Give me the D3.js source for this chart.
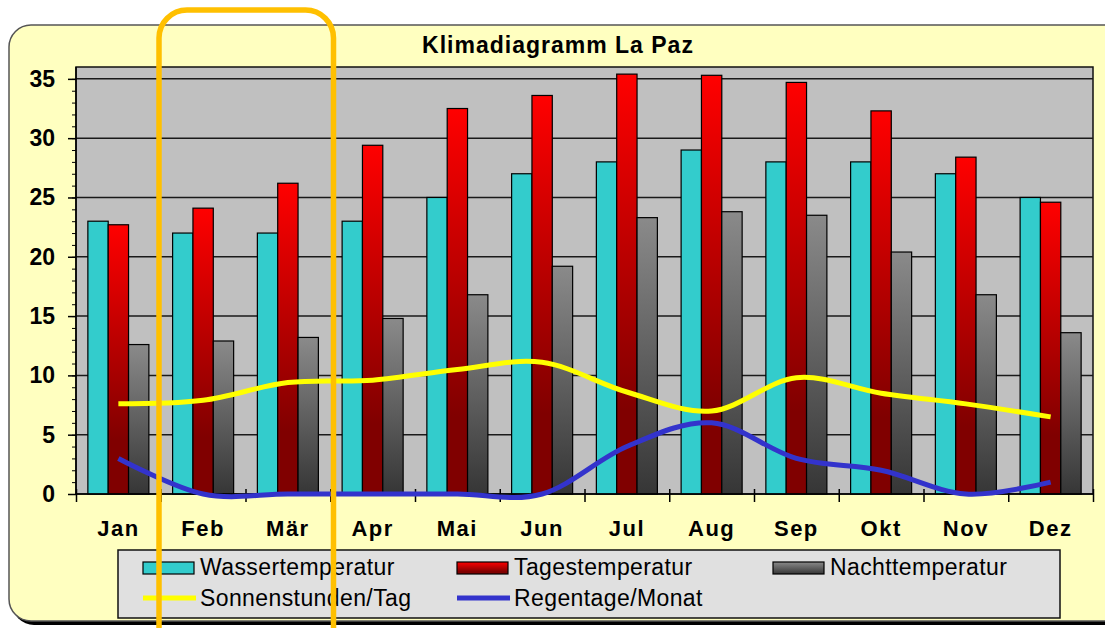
<!DOCTYPE html>
<html>
<head>
<meta charset="utf-8">
<script src="https://cdn.jsdelivr.net/npm/d3@7"></script>
<style>
  body { margin: 0; background: #fff; }
  svg { display: block; font-family: "Liberation Sans", Arial, sans-serif; }
</style>
</head>
<body>
<div id="chart"></div>
<script>
// Klimadiagramm La Paz
const months = ['Jan', 'Feb', 'Mär', 'Apr', 'Mai', 'Jun', 'Jul', 'Aug', 'Sep', 'Okt', 'Nov', 'Dez'];
const wasser = [23, 22, 22, 23, 25, 27, 28, 29, 28, 28, 27, 25];
const tages = [22.7, 24.1, 26.2, 29.4, 32.5, 33.6, 35.4, 35.3, 34.7, 32.3, 28.4, 24.6];
const nacht = [12.6, 12.9, 13.2, 14.8, 16.8, 19.2, 23.3, 23.8, 23.5, 20.4, 16.8, 13.6];
const sonne = [7.6, 7.9, 9.4, 9.6, 10.5, 11.1, 8.6, 7.0, 9.8, 8.5, 7.6, 6.5];
const regen = [3, 0, 0, 0, 0, 0, 4, 6, 3, 2, 0, 1];
const yTicks = [0, 5, 10, 15, 20, 25, 30, 35];

const barSeries = [
    { name: 'Wassertemperatur', values: wasser, fill: '#33cccc' },
    { name: 'Tagestemperatur', values: tages, fill: 'url(#gRed)' },
    { name: 'Nachttemperatur', values: nacht, fill: 'url(#gGray)' }
];
const lineSeries = [
    { name: 'Sonnenstunden/Tag', values: sonne, color: '#ffff00' },
    { name: 'Regentage/Monat', values: regen, color: '#3333cc' }
];

const initChart = () => {
    const width = 1105;
    const height = 628;
    const plot = { left: 76, right: 1093, top: 67, bottom: 494 };

    const svg = d3.select('#chart')
        .append('svg')
        .attr('width', width)
        .attr('height', height);

    const defs = svg.append('defs');
    const grad = (id, stops) => {
        const g = defs.append('linearGradient')
            .attr('id', id)
            .attr('x1', 0).attr('y1', 0).attr('x2', 0).attr('y2', 1);
        stops.forEach(([o, c]) => g.append('stop').attr('offset', o).attr('stop-color', c));
    };
    grad('gRed', [[0, '#ff0000'], [0.8, '#800000'], [1, '#800000']]);
    grad('gGray', [[0, '#8a8a8a'], [1, '#363636']]);

    // outer frame with shadow
    svg.append('rect')
        .attr('x', 12).attr('y', 28)
        .attr('width', 1120).attr('height', 597)
        .attr('rx', 22)
        .attr('fill', '#000');
    svg.append('rect')
        .attr('x', 9).attr('y', 25)
        .attr('width', 1120).attr('height', 596)
        .attr('rx', 22)
        .attr('fill', '#ffffc0')
        .attr('stroke', '#555')
        .attr('stroke-width', 1.5);

    svg.append('text')
        .attr('x', 558).attr('y', 53)
        .attr('text-anchor', 'middle')
        .attr('font-size', 23)
        .attr('font-weight', 'bold')
        .attr('letter-spacing', 1)
        .text('Klimadiagramm La Paz');

    const x = d3.scaleBand()
        .domain(months)
        .range([plot.left, plot.right])
        .paddingInner(0.28)
        .paddingOuter(0.14);
    const xs = d3.scaleBand()
        .domain(barSeries.map(d => d.name))
        .range([0, x.bandwidth()]);
    const y = d3.scaleLinear()
        .domain([0, 36])
        .range([plot.bottom, plot.top]);

    // plot area
    svg.append('rect')
        .attr('x', plot.left).attr('y', plot.top)
        .attr('width', plot.right - plot.left)
        .attr('height', plot.bottom - plot.top)
        .attr('fill', '#c0c0c0')
        .attr('stroke', '#111')
        .attr('stroke-width', 1.5);

    svg.append('g')
        .selectAll('line')
        .data(yTicks.filter(d => d > 0))
        .join('line')
        .attr('x1', plot.left).attr('x2', plot.right)
        .attr('y1', d => y(d)).attr('y2', d => y(d))
        .attr('stroke', '#1a1a1a')
        .attr('stroke-width', 1.5);

    // bars
    barSeries.forEach(s => {
        svg.append('g')
            .selectAll('rect')
            .data(s.values)
            .join('rect')
            .attr('x', (d, i) => x(months[i]) + xs(s.name))
            .attr('y', d => y(d))
            .attr('width', xs.bandwidth())
            .attr('height', d => y(0) - y(d))
            .attr('fill', s.fill)
            .attr('stroke', '#000')
            .attr('stroke-width', 1.2);
    });

    // axes
    const yMinor = svg.append('g')
        .attr('transform', `translate(${plot.left},0)`)
        .call(d3.axisLeft(y).tickValues(d3.range(0, 36)).tickSize(4).tickFormat(''));
    yMinor.select('.domain').remove();

    const yAxis = svg.append('g')
        .attr('transform', `translate(${plot.left},0)`)
        .call(d3.axisLeft(y).tickValues(yTicks).tickSize(8).tickPadding(13).tickSizeOuter(0));
    yAxis.select('.domain').attr('d', `M0,${plot.top}V${plot.bottom}`).attr('stroke-width', 1.5);
    yAxis.selectAll('line').attr('stroke-width', 1.5);
    yAxis.selectAll('text')
        .attr('font-size', 23)
        .attr('font-weight', 'bold')
        .attr('fill', '#000');

    const xb = d3.scaleLinear().domain([0, 12]).range([plot.left, plot.right]);
    const xTicks = svg.append('g')
        .attr('transform', `translate(0,${plot.bottom - 5})`)
        .call(d3.axisBottom(xb).tickValues(d3.range(13)).tickSize(13).tickFormat(''));
    xTicks.select('.domain').remove();
    xTicks.selectAll('line').attr('stroke-width', 1.5);

    svg.append('line')
        .attr('x1', plot.left).attr('x2', plot.right)
        .attr('y1', plot.bottom).attr('y2', plot.bottom)
        .attr('stroke', '#000')
        .attr('stroke-width', 1.5);

    const xAxis = svg.append('g')
        .attr('transform', `translate(0,${plot.bottom})`)
        .call(d3.axisBottom(x).tickSize(0).tickPadding(26));
    xAxis.select('.domain').remove();
    xAxis.selectAll('text')
        .attr('font-size', 22)
        .attr('font-weight', 'bold')
        .attr('letter-spacing', 1.5)
        .attr('fill', '#000');

    // smoothed lines
    const line = d3.line()
        .x((d, i) => x(months[i]) + x.bandwidth() / 2)
        .y(d => y(d))
        .curve(d3.curveCatmullRom.alpha(0));

    lineSeries.forEach(s => {
        svg.append('path')
            .datum(s.values)
            .attr('d', line)
            .attr('fill', 'none')
            .attr('stroke', s.color)
            .attr('stroke-width', 5)
            .attr('stroke-linejoin', 'round');
    });

    // legend
    const legend = svg.append('g');
    legend.append('rect')
        .attr('x', 118).attr('y', 550)
        .attr('width', 942).attr('height', 68)
        .attr('fill', '#e0e0e0')
        .attr('stroke', '#111')
        .attr('stroke-width', 1.5);

    const cols = [143, 457, 773];
    barSeries.forEach((s, i) => {
        legend.append('rect')
            .attr('x', cols[i]).attr('y', 562)
            .attr('width', 51).attr('height', 12)
            .attr('fill', s.fill)
            .attr('stroke', '#000')
            .attr('stroke-width', 1.2);
        legend.append('text')
            .attr('x', cols[i] + 57).attr('y', 575)
            .attr('font-size', 23)
            .attr('letter-spacing', 0.4)
            .text(s.name);
    });
    lineSeries.forEach((s, i) => {
        legend.append('line')
            .attr('x1', cols[i]).attr('x2', cols[i] + 53)
            .attr('y1', 598).attr('y2', 598)
            .attr('stroke', s.color)
            .attr('stroke-width', 5);
        legend.append('text')
            .attr('x', cols[i] + 57).attr('y', 606)
            .attr('font-size', 23)
            .attr('letter-spacing', 0.4)
            .text(s.name);
    });

    // orange highlight around Feb / Mär
    svg.append('rect')
        .attr('x', 159).attr('y', 10)
        .attr('width', 174.5).attr('height', 680)
        .attr('rx', 28)
        .attr('fill', 'none')
        .attr('stroke', '#ffc000')
        .attr('stroke-width', 5.5);
};

document.addEventListener('DOMContentLoaded', initChart);
</script>
</body>
</html>
